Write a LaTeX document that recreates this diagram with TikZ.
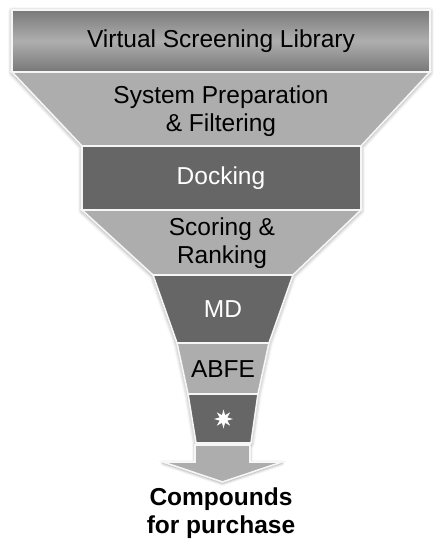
\documentclass[tikz,border=0pt]{standalone}
\usepackage{fontspec}
\setmainfont{Liberation Sans}
\usetikzlibrary{shapes.geometric,shadows.blur}
\definecolor{lite}{RGB}{173,173,173}
\definecolor{dark}{RGB}{102,102,102}
\definecolor{gtop}{RGB}{122,122,122}
\definecolor{gmid}{RGB}{174,174,174}
\definecolor{gbot}{RGB}{120,120,120}
\definecolor{rim}{RGB}{246,246,246}
\tikzset{
  layer/.style={draw=rim, line width=1.6pt, line join=miter},
  litelayer/.style={layer, fill=lite},
  darklayer/.style={layer, fill=dark},
  lbl/.style={font=\fontsize{24.5}{28}\selectfont, align=center, inner sep=0pt},
  blacklbl/.style={lbl, text=black},
  whitelbl/.style={lbl, text=white},
}
\begin{document}
\begin{tikzpicture}[x=1pt,y=-1pt]
\useasboundingbox (0,0) rectangle (441,543);
% shadow silhouettes
\fill[white, blur shadow={shadow xshift=0pt, shadow yshift=-1pt, shadow blur radius=4pt, shadow opacity=45}]
  (12,10) -- (430,10) -- (430,72) -- (361,146) -- (361,210) -- (293,275)
  -- (269,343) -- (258,394) -- (251,443) -- (196,443) -- (188,394) -- (177,343)
  -- (153,275) -- (82,210) -- (82,146) -- (12,72) -- cycle;
\fill[white, blur shadow={shadow xshift=0pt, shadow yshift=-1pt, shadow blur radius=3pt, shadow opacity=45}]
  (195,445) -- (250,445) -- (250,462) -- (282,462) -- (222.5,482) -- (163,462) -- (195,462) -- cycle;
% layers
\draw[layer, top color=gtop, bottom color=gbot, middle color=gmid] (12,10) rectangle (430,72);
\draw[litelayer] (12,72) -- (430,72) -- (361,146) -- (82,146) -- cycle;
\draw[darklayer] (82,146) rectangle (361,210);
\draw[litelayer] (82,210) -- (361,210) -- (293,275) -- (153,275) -- cycle;
\draw[darklayer] (153,275) -- (293,275) -- (269,343) -- (177,343) -- cycle;
\draw[litelayer] (177,343) -- (269,343) -- (258,394) -- (188,394) -- cycle;
\draw[darklayer] (188,394) -- (258,394) -- (251,443) -- (196,443) -- cycle;
% arrow
\draw[litelayer] (195,445) -- (250,445) -- (250,462) -- (282,462) -- (222.5,482) -- (163,462) -- (195,462) -- cycle;
% labels
\node[blacklbl] (vsl) at (221,41) {Virtual Screening Library};
\node[blacklbl] (spf) at (221,111) {System Preparation\\\& Filtering};
\node[whitelbl] (dock) at (221,178) {Docking};
\node[blacklbl] (score) at (222,243) {Scoring \&\\Ranking};
\node[whitelbl] (md) at (223,309) {MD};
\node[blacklbl] (abfe) at (223,369) {ABFE};
\node[star, star points=8, star point ratio=2.3, minimum size=19pt, inner sep=0pt, fill=white] (burst) at (223.5,419) {};
\node[lbl, font=\fontsize{24.5}{28.5}\selectfont\bfseries] (out) at (221,513) {Compounds\\for purchase};
\end{tikzpicture}
\end{document}
